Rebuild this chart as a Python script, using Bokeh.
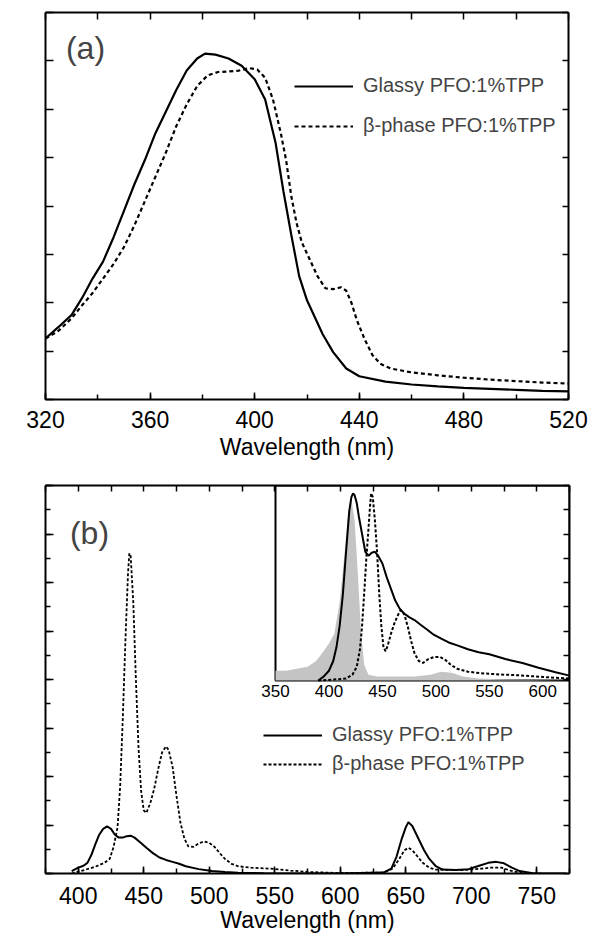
import math
from bokeh.plotting import figure
from bokeh.models import (Range1d, LinearAxis, SingleIntervalTicker, Label,
                          Legend, LegendItem, CustomLabelingPolicy)
from bokeh.layouts import column
from bokeh.embed import file_html
from bokeh.resources import INLINE
from bokeh.core.properties import value

FONT = "Liberation Sans"

# ---------------- Panel (a): absorbance ----------------
wl_a_glassy = [320, 325, 330, 334, 338, 342, 346, 350, 354, 358, 362, 366, 370, 374, 378, 381,
               385, 390, 395, 400, 404, 408, 411, 414, 417, 420, 423, 426, 430, 435, 440, 450,
               460, 470, 480, 490, 500, 510, 520]
abs_glassy = [1.26, 1.5, 1.75, 2.1, 2.5, 2.85, 3.35, 3.9, 4.45, 4.95, 5.5, 5.95, 6.4, 6.8, 7.05, 7.15,
              7.13, 7.05, 6.9, 6.62, 6.2, 5.3, 4.3, 3.4, 2.55, 2.05, 1.7, 1.35, 0.98, 0.64, 0.48, 0.37,
              0.31, 0.27, 0.24, 0.22, 0.2, 0.18, 0.17]

wl_a_beta = [320, 325, 330, 334, 338, 342, 346, 350, 354, 358, 362, 366, 370, 374, 378, 382, 386,
             390, 394, 398, 401, 404, 407, 410, 412, 414, 416, 418, 421, 424, 427, 430, 433, 435,
             437, 439, 442, 445, 448, 452, 460, 470, 480, 490, 500, 510, 520]
abs_beta = [1.26, 1.42, 1.68, 1.95, 2.2, 2.5, 2.8, 3.15, 3.6, 4.1, 4.6, 5.1, 5.65, 6.1, 6.48, 6.7, 6.77,
            6.78, 6.8, 6.85, 6.82, 6.65, 6.2, 5.5, 4.95, 4.2, 3.65, 3.25, 2.9, 2.55, 2.3, 2.28, 2.32, 2.25,
            2.0, 1.65, 1.25, 0.92, 0.74, 0.64, 0.56, 0.5, 0.45, 0.41, 0.38, 0.35, 0.33]

# ---------------- Panel (b): fluorescence ----------------
wl_b_glassy = [395, 400, 404, 407, 410, 413, 416, 419, 422, 425, 428, 431, 434, 437, 440, 443, 447,
               452, 457, 462, 467, 472, 477, 482, 492, 502, 512, 522, 542, 560, 600, 633, 639, 643,
               647, 650, 652, 655, 660, 664, 668, 673, 678, 688, 698, 706, 713, 719, 725, 731, 737,
               748, 772]
fl_glassy = [0.05, 0.12, 0.16, 0.22, 0.38, 0.6, 0.8, 0.92, 0.97, 0.92, 0.8, 0.74, 0.74, 0.77, 0.78,
             0.74, 0.65, 0.53, 0.42, 0.33, 0.28, 0.24, 0.2, 0.15, 0.09, 0.05, 0.03, 0.015, 0.005, 0.0,
             0.0, 0.02, 0.1, 0.35, 0.72, 0.95, 1.06, 0.98, 0.7, 0.48, 0.3, 0.15, 0.08, 0.07, 0.09, 0.16,
             0.22, 0.24, 0.21, 0.12, 0.05, 0.0, 0.0]

wl_b_beta = [395, 402, 412, 420, 424, 427, 430, 432, 434, 436, 438, 439, 440, 442, 444, 446, 448,
             450, 452, 455, 458, 461, 464, 467, 469, 472, 475, 478, 481, 484, 488, 492, 496, 500,
             504, 508, 512, 517, 522, 532, 547, 562, 577, 600, 633, 640, 645, 649, 652, 655, 659,
             663, 668, 673, 693, 708, 715, 723, 730, 738, 753]
fl_beta = [0.0, 0.05, 0.13, 0.22, 0.3, 0.55, 0.95, 1.8, 3.2, 4.8, 6.2, 6.6, 6.55, 5.6, 4.0, 2.6, 1.7,
           1.3, 1.25, 1.45, 1.75, 2.15, 2.5, 2.62, 2.55, 2.2, 1.6, 1.05, 0.72, 0.56, 0.55, 0.62, 0.66,
           0.63, 0.55, 0.42, 0.3, 0.2, 0.15, 0.12, 0.1, 0.06, 0.03, 0.01, 0.02, 0.1, 0.3, 0.48, 0.53,
           0.48, 0.35, 0.22, 0.12, 0.08, 0.07, 0.1, 0.12, 0.12, 0.06, 0.01, 0.0]

# ---------------- Inset (normalised) ----------------
wl_in_glassy = [390, 395, 400, 404, 407, 410, 413, 416, 419, 421, 422.5, 424, 426, 428, 431, 434, 437,
                440, 443, 446, 450, 454, 458, 462, 466, 470, 475, 480, 486, 492, 498, 505, 512, 520,
                530, 540, 550, 565, 581, 596, 612, 625]
in_glassy = [0.0, 0.02, 0.05, 0.1, 0.17, 0.28, 0.44, 0.66, 0.87, 0.94, 0.96, 0.95, 0.91, 0.84, 0.75,
             0.66, 0.64, 0.655, 0.66, 0.64, 0.6, 0.53, 0.47, 0.41, 0.37, 0.345, 0.325, 0.31, 0.285,
             0.26, 0.235, 0.215, 0.195, 0.18, 0.16, 0.145, 0.135, 0.11, 0.09, 0.065, 0.042, 0.025]

wl_in_beta = [390, 405, 416, 422, 426, 429, 431, 433, 435, 437, 438.5, 439.5, 441, 443, 445, 447, 449,
              451, 453, 455, 458, 461, 464, 467, 469, 471, 474, 477, 480, 484, 488, 493, 498, 504,
              509, 514, 520, 530, 545, 560, 580, 600, 625]
in_beta = [0.0, 0.005, 0.01, 0.03, 0.07, 0.16, 0.28, 0.45, 0.63, 0.78, 0.9, 0.96, 0.94, 0.82, 0.66,
           0.45, 0.28, 0.17, 0.15, 0.18, 0.24, 0.29, 0.33, 0.36, 0.355, 0.33, 0.27, 0.2, 0.14, 0.1,
           0.09, 0.11, 0.12, 0.12, 0.105, 0.08, 0.06, 0.045, 0.036, 0.031, 0.026, 0.018, 0.01]

wl_in_gray = [350, 360, 370, 380, 388, 395, 400, 405, 410, 414, 418, 421, 424, 427, 430, 433, 437,
              445, 460, 480, 495, 505, 515, 525, 540, 560, 625]
in_gray = [0.05, 0.05, 0.06, 0.07, 0.1, 0.15, 0.19, 0.24, 0.4, 0.62, 0.85, 0.93, 0.82, 0.55, 0.25,
           0.08, 0.03, 0.02, 0.02, 0.02, 0.03, 0.045, 0.04, 0.02, 0.01, 0.005, 0.0]

inset_ticks = [350, 400, 450, 500, 550, 600]
inset_xlim = (350, 625)
inset_ylim = (0, 1)

labels = ["Glassy PFO:1%TPP", "\u03b2-phase PFO:1%TPP"]

HIDE = "for (const i of indices) { indices.unset(i) } return indices"


def style_axis(ax, tin, minor_in, show_labels):
    ax.axis_line_width = 2
    ax.axis_line_color = "black"
    ax.major_tick_in = tin
    ax.major_tick_out = 0
    ax.minor_tick_in = minor_in
    ax.minor_tick_out = 0
    ax.major_tick_line_width = 1.5
    ax.minor_tick_line_width = 1.5
    ax.major_tick_line_color = "black"
    ax.minor_tick_line_color = "black"
    ax.major_label_text_font = FONT
    ax.axis_label_text_font = FONT
    ax.axis_label_text_font_style = "normal"
    ax.major_label_text_color = "black"
    ax.axis_label_text_color = "black"
    if not show_labels:
        ax.major_label_text_font_size = "2px"
        ax.major_label_standoff = 0
        ax.major_label_policy = CustomLabelingPolicy(code=HIDE)


def make_fig(xr, yr, fw, fh, bl, br, bt, bb):
    p = figure(frame_width=fw, frame_height=fh, min_border_left=bl, min_border_right=br,
               min_border_top=bt, min_border_bottom=bb, x_range=Range1d(*xr), y_range=Range1d(*yr),
               output_backend="svg", toolbar_location=None)
    p.grid.visible = False
    p.outline_line_color = None
    p.background_fill_color = "white"
    p.border_fill_color = "white"
    return p


# ======== Figure (a) ========
pa = make_fig((320, 520), (0, 8), 523, 387, 45, 24, 12, 71)
ax = pa.xaxis[0]
ax.ticker = SingleIntervalTicker(interval=40, num_minor_ticks=2)
style_axis(ax, 7, 5, True)
ax.major_label_text_font_size = "23px"
ax.major_label_standoff = 11
ax.axis_label = "Wavelength (nm)"
ax.axis_label_text_font_size = "23px"
ax.axis_label_standoff = 3
ay = pa.yaxis[0]
ay.ticker = SingleIntervalTicker(interval=1, num_minor_ticks=0)
style_axis(ay, 8, 0, False)
top_a = LinearAxis(ticker=SingleIntervalTicker(interval=20, num_minor_ticks=0))
style_axis(top_a, 7, 0, False)
pa.add_layout(top_a, "above")
right_a = LinearAxis(ticker=SingleIntervalTicker(interval=1, num_minor_ticks=0))
style_axis(right_a, 6, 0, False)
pa.add_layout(right_a, "right")

ra1 = pa.line(wl_a_glassy, abs_glassy, line_color="black", line_width=2.2)
ra2 = pa.line(wl_a_beta, abs_beta, line_color="black", line_width=2.2, line_dash="4 3")
leg_a = Legend(items=[LegendItem(label=labels[0], renderers=[ra1]),
                      LegendItem(label=labels[1], renderers=[ra2])],
               location=(249, 262), glyph_width=59, glyph_height=22, label_height=22,
               label_standoff=10, spacing=17, padding=0, margin=0, border_line_color=None,
               background_fill_alpha=0, label_text_font=FONT, label_text_font_size="20px")
pa.add_layout(leg_a)
pa.add_layout(Label(x=335.3, y=7.27, text="(a)", text_font=FONT, text_font_size="32px",
                    text_align="center", text_baseline="middle"))
pa.add_layout(Label(x=311.2, y=4.53, text="Absorbance (a. u.)", angle=math.pi / 2,
                    text_font=FONT, text_font_size="24px", text_align="center",
                    text_baseline="middle"))

# ======== Figure (b) ========
pb = make_fig((375, 775), (0, 8), 524, 388, 45, 23, 15, 67)
bx = pb.xaxis[0]
bx.ticker = SingleIntervalTicker(interval=50, num_minor_ticks=2)
style_axis(bx, 7, 5, True)
bx.major_label_text_font_size = "23px"
bx.major_label_standoff = 13
bx.axis_label = "Wavelength (nm)"
bx.axis_label_text_font_size = "23px"
bx.axis_label_standoff = 0
by = pb.yaxis[0]
by.ticker = SingleIntervalTicker(interval=1, num_minor_ticks=2)
style_axis(by, 8, 5, False)
top_b = LinearAxis(ticker=SingleIntervalTicker(interval=25, num_minor_ticks=0))
style_axis(top_b, 6, 0, False)
pb.add_layout(top_b, "above")
right_b = LinearAxis(ticker=SingleIntervalTicker(interval=0.5, num_minor_ticks=0))
style_axis(right_b, 6, 0, False)
pb.add_layout(right_b, "right")

# inset placed in the top-right part of the frame through extra ranges
fx0, fy0 = (275 - 45) / 524.0, (873 - 680) / 388.0
span_x = (inset_xlim[1] - inset_xlim[0]) / (1 - fx0)
span_y = (inset_ylim[1] - inset_ylim[0]) / (1 - fy0)
pb.extra_x_ranges = {"ix": Range1d(inset_xlim[1] - span_x, inset_xlim[1])}
pb.extra_y_ranges = {"iy": Range1d(inset_ylim[1] - span_y, inset_ylim[1])}

rb1 = pb.line(wl_b_glassy, fl_glassy, line_color="black", line_width=2.0)
rb2 = pb.line(wl_b_beta, fl_beta, line_color="black", line_width=1.8, line_dash="3 2")

pb.quad(left=[inset_xlim[0]], right=[inset_xlim[1]], bottom=[inset_ylim[0]], top=[inset_ylim[1]],
        fill_color="white", line_color="black", line_width=2, x_range_name="ix", y_range_name="iy")
pb.varea(x=wl_in_gray, y1=[0] * len(wl_in_gray), y2=in_gray, fill_color="#c4c4c4",
         x_range_name="ix", y_range_name="iy")
pb.line(wl_in_glassy, in_glassy, line_color="black", line_width=2.0, x_range_name="ix", y_range_name="iy")
pb.line(wl_in_beta, in_beta, line_color="black", line_width=2.0, line_dash="3 2",
        x_range_name="ix", y_range_name="iy")
pb.text(x=inset_ticks, y=[inset_ylim[0]] * len(inset_ticks), text=[str(t) for t in inset_ticks],
        text_align="center", text_baseline="top", y_offset=4, text_font=value(FONT),
        text_font_size="17px", text_color="black", x_range_name="ix", y_range_name="iy")

leg_b = Legend(items=[LegendItem(label=labels[0], renderers=[rb1]),
                      LegendItem(label=labels[1], renderers=[rb2])],
               location=(218, 98), glyph_width=59, glyph_height=22, label_height=22,
               label_standoff=10, spacing=6, padding=0, margin=0, border_line_color=None,
               background_fill_alpha=0, label_text_font=FONT, label_text_font_size="20px")
pb.add_layout(leg_b)
pb.add_layout(Label(x=408.6, y=7.02, text="(b)", text_font=FONT, text_font_size="32px",
                    text_align="center", text_baseline="middle"))
pb.add_layout(Label(x=357.4, y=4.56, text="Fluorescence (a. u.)", angle=math.pi / 2,
                    text_font=FONT, text_font_size="24px", text_align="center",
                    text_baseline="middle"))

layout = column(pa, pb, spacing=0)
open("out.html", "w").write(file_html(layout, INLINE))
